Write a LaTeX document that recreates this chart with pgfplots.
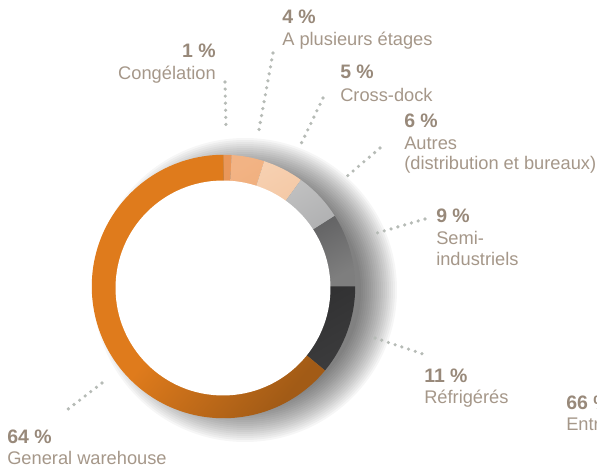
\documentclass[border=0pt]{standalone}
\usepackage{pgfplots}
\pgfplotsset{compat=1.18}
\usepackage{pgfplotstable}
\usepackage{fontspec}
\setmainfont{Liberation Sans}
\definecolor{pct}{RGB}{152,137,122}
\definecolor{lab}{RGB}{165,151,137}
\definecolor{dots}{RGB}{182,187,182}
% slice colours (top / bottom of each gradient)
\definecolor{slA0}{HTML}{E9975A}\definecolor{slB0}{HTML}{E58F50}
\definecolor{slA1}{HTML}{F2B384}\definecolor{slB1}{HTML}{EDA66E}
\definecolor{slA2}{HTML}{F7D1B2}\definecolor{slB2}{HTML}{F0BE96}
\definecolor{slA3}{HTML}{C6C6C6}\definecolor{slB3}{HTML}{A4A5A7}
\definecolor{slA4}{HTML}{525254}\definecolor{slB4}{HTML}{7E7E7E}
\definecolor{slA5}{HTML}{2C2C2D}\definecolor{slB5}{HTML}{3B3B3C}
\definecolor{orangeA}{HTML}{DF7B1C}\definecolor{orangeB}{HTML}{A25B16}

\pgfplotstableread{
idx value
0 1
1 4
2 5
3 6
4 9
5 11
6 64
}\slices

\begin{document}
\begin{tikzpicture}[
  pct/.style={anchor=base west, inner sep=0pt, text=pct, font=\bfseries\fontsize{14.6}{17}\selectfont},
  lab/.style={anchor=base west, inner sep=0pt, text=lab, font=\fontsize{13.7}{16}\selectfont},
  leader/.style={draw=dots, line width=2.7pt, line cap=round, dash pattern=on 0pt off 5.3pt}]
\begin{axis}[name=ax, x=0.75pt, y=0.75pt, xmin=0, xmax=597, ymin=0, ymax=468,
  hide axis, clip=false]
% soft shadow
\pgfplotsforeachungrouped \k in {0,...,18}{%
  \pgfmathsetmacro\rr{(116+2*\k)*0.75}%
  \edef\cmd{\noexpand\fill[black,opacity=0.035] (axis cs:245,178) circle[radius=\rr pt];}%
  \cmd
}
% slices from the table
\def\cum{0}
\pgfplotsforeachungrouped \i in {0,...,5}{%
  \pgfplotstablegetelem{\i}{value}\of\slices
  \pgfmathsetmacro\sa{90-3.6*\cum}%
  \pgfmathsetmacro\cum{\cum+\pgfplotsretval}%
  \pgfmathsetmacro\ea{90-3.6*\cum}%
  \edef\cmd{\noexpand\shade[top color=slA\i, bottom color=slB\i, shading angle=30] (axis cs:223.5,181.5) -- +(\sa:98.8pt) arc[start angle=\sa, end angle=\ea, radius=98.8pt] -- cycle;}%
  \cmd
}
\pgfplotstablegetelem{6}{value}\of\slices
\pgfmathsetmacro\sa{90-3.6*\cum}
\pgfmathsetmacro\cum{\cum+\pgfplotsretval}
\pgfmathsetmacro\ea{90-3.6*\cum}
\edef\cmd{\noexpand\shade[top color=orangeA, bottom color=orangeB, middle color=orangeA, shading angle=50] (axis cs:223.5,181.5) -- +(\sa:98.8pt) arc[start angle=\sa, end angle=\ea, radius=98.8pt] -- cycle;}
\cmd
% hole
\fill[white] (axis cs:223,180) circle[radius=80.6pt];
% leaders
\draw[leader] (axis cs:225,386) -- (axis cs:226,340);
\draw[leader] (axis cs:273,415) -- (axis cs:258,333);
\draw[leader] (axis cs:323,370) -- (axis cs:301,324);
\draw[leader] (axis cs:380,320) -- (axis cs:345,290);
\draw[leader] (axis cs:425,249) -- (axis cs:377,235);
\draw[leader] (axis cs:375,130) -- (axis cs:423,114);
\draw[leader] (axis cs:102,85) -- (axis cs:63,55);
% labels
\node[pct, anchor=base east] at (axis cs:216,410) {1 \%};
\node[lab, anchor=base east] at (axis cs:216,388) {Congélation};
\node[pct] at (axis cs:282,444) {4 \%};
\node[lab] at (axis cs:282,422) {A plusieurs étages};
\node[pct] at (axis cs:340,389) {5 \%};
\node[lab] at (axis cs:340,366) {Cross-dock};
\node[pct] at (axis cs:404,340) {6 \%};
\node[lab] at (axis cs:404,318) {Autres};
\node[lab] at (axis cs:404,298) {(distribution et bureaux)};
\node[pct] at (axis cs:436,245) {9 \%};
\node[lab] at (axis cs:436,223) {Semi-};
\node[lab] at (axis cs:436,202) {industriels};
\node[pct] at (axis cs:424,85) {11 \%};
\node[lab] at (axis cs:424,64) {Réfrigérés};
\node[pct] at (axis cs:7,24) {64 \%};
\node[lab] at (axis cs:7,3) {General warehouse};
\node[pct] at (axis cs:566,58) {66 \%};
\node[lab] at (axis cs:566,37) {Entrepôts};
\end{axis}
\pgfresetboundingbox
\path (ax.south west) rectangle (ax.north east);
\end{tikzpicture}
\end{document}
